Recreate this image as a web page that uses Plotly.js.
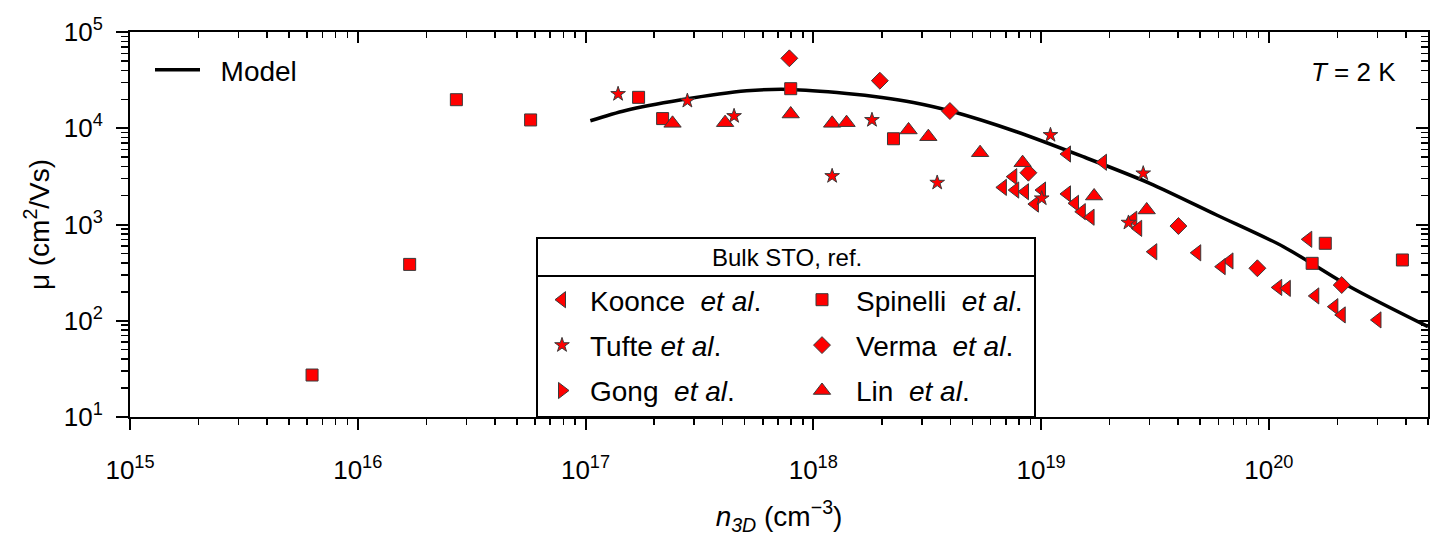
<!DOCTYPE html>
<html>
<head>
<meta charset="utf-8">
<script src="https://cdn.plot.ly/plotly-3.0.1.min.js"></script>
<style>
  html, body { margin: 0; padding: 0; background: #fff; }
  #chart { width: 1437px; height: 544px; }
</style>
</head>
<body>
<div id="chart"></div>
<script>
// Carrier mobility of bulk SrTiO3 at T = 2 K versus 3D carrier density.

// Model curve
const modelN  = [1.05e17, 1.5e17, 2.6e17, 5.1e17, 7.9e17, 1.4e18, 2.0e18, 2.75e18, 4.0e18, 7.8e18, 1.53e19, 3.0e19, 5.9e19, 1.16e20, 2.27e20, 5.0e20];
const modelMu = [11960, 15300, 19650, 24500, 25300, 23000, 20900, 18500, 15100, 9200, 5060, 2680, 1256, 588, 226, 87];

// Koonce et al.
const koonceN  = [1.30e19, 1.87e19, 7.55e18, 6.8e18, 7.7e18, 8.5e18, 1.01e19, 9.4e18, 1.30e19, 1.41e19, 1.51e19, 1.65e19, 2.54e19, 2.67e19, 3.11e19, 4.85e19, 6.72e19, 6.21e19, 1.10e20, 1.20e20, 1.49e20, 1.60e20, 1.94e20, 2.09e20, 3.0e20];
const koonceMu = [5400, 4430, 3140, 2430, 2280, 2190, 2280, 1630, 2080, 1660, 1360, 1190, 1133, 912, 521, 508, 418, 365, 222, 217, 702, 181, 140, 115, 102];

// Tufte et al.
const tufteN  = [1.39e17, 2.8e17, 4.49e17, 1.21e18, 1.81e18, 3.5e18, 1.10e19, 2.81e19, 1.007e19, 2.42e19];
const tufteMu = [22700, 19300, 13400, 3190, 12190, 2720, 8510, 3400, 1870, 1045];

// Gong et al. (no points inside the plotted range)
const gongN  = [];
const gongMu = [];

// Spinelli et al.
const spinelliN  = [6.3e15, 1.69e16, 2.71e16, 5.74e16, 1.71e17, 2.18e17, 7.96e17, 2.25e18, 1.77e20, 1.55e20, 3.86e20];
const spinelliMu = [27.3, 385, 19800, 12200, 20950, 12600, 25760, 7780, 638, 395, 428];

// Verma et al.
const vermaN  = [7.85e17, 1.96e18, 3.98e18, 8.8e18, 4.01e19, 8.91e19, 2.09e20];
const vermaMu = [53300, 31200, 15100, 3450, 964, 351, 235];

// Lin et al.
const linN  = [2.41e17, 4.1e17, 7.96e17, 1.21e18, 1.40e18, 2.62e18, 3.2e18, 5.4e18, 8.3e18, 1.71e19, 2.91e19];
const linMu = [11250, 11430, 14060, 11250, 11430, 9600, 8170, 5570, 4390, 1977, 1416];

// Axis ticks
const xTickVals = [1e15, 1e16, 1e17, 1e18, 1e19, 1e20];
const xTickText = ['10<sup>15</sup>', '10<sup>16</sup>', '10<sup>17</sup>', '10<sup>18</sup>', '10<sup>19</sup>', '10<sup>20</sup>'];
const yTickVals = [1e1, 1e2, 1e3, 1e4, 1e5];
const yTickText = ['10<sup>1</sup>', '10<sup>2</sup>', '10<sup>3</sup>', '10<sup>4</sup>', '10<sup>5</sup>'];

const xRange = [15, Math.log10(5e20)];
const yRange = [1, 5];

// minor ticks at 2..9 within each decade
function decadeMinors(loExp, hiExp) {
  const out = [];
  for (let e = loExp; e <= hiExp; e++) {
    for (let m = 2; m <= 9; m++) out.push(m * Math.pow(10, e));
  }
  return out;
}
const xMinor = decadeMinors(15, 20);
const yMinor = decadeMinors(1, 4);

const FONT = 'Liberation Sans, Arial, Helvetica, sans-serif';
const RED = '#ff0000';
const EDGE = '#3a3a3a';

// an empty series still gets a legend entry through a single blank point
const orBlank = arr => (arr.length ? arr : [null]);

function series(name, xs, ys, symbol, size, legendId, group) {
  return {
    type: 'scatter', mode: 'markers', name: name, x: orBlank(xs), y: orBlank(ys),
    legend: legendId, legendgroup: group,
    marker: { symbol: symbol, size: size, color: RED, line: { color: EDGE, width: 1 } },
    hoverinfo: 'x+y+name'
  };
}

const etal = '\u00a0<i>et al</i>.';
const traces = [
  {
    type: 'scatter', mode: 'lines', name: '\u00a0\u00a0Model', x: modelN, y: modelMu,
    legend: 'legend3',
    line: { color: '#000', width: 3.5, shape: 'spline', smoothing: 0.8 }
  },
  series('Koonce\u00a0' + etal, koonceN, koonceMu, 'triangle-left', 14, 'legend', 'g1'),
  series('Tufte' + etal, tufteN, tufteMu, 'star', 11, 'legend', 'g2'),
  series('Gong\u00a0' + etal, gongN, gongMu, 'triangle-right', 14, 'legend', 'g3'),
  series('Spinelli\u00a0' + etal, spinelliN, spinelliMu, 'square', 12, 'legend2', 'g4'),
  series('Verma\u00a0' + etal, vermaN, vermaMu, 'diamond', 13, 'legend2', 'g5'),
  series('Lin\u00a0' + etal, linN, linMu, 'triangle-up', 15, 'legend2', 'g6'),
  // carrier for the mirrored (top / right) tick axes
  { type: 'scatter', mode: 'markers', x: [null], y: [null], xaxis: 'x2', yaxis: 'y2', showlegend: false, hoverinfo: 'skip' }
];

const W = 1437, H = 544;
const M = { l: 130, r: 9, t: 32, b: 127 };
const PW = W - M.l - M.r, PH = H - M.t - M.b;
const px = v => (v - M.l) / PW;          // pixel column -> paper x
const py = v => (H - M.b - v) / PH;      // pixel row -> paper y

const baseAxis = {
  type: 'log', showgrid: false, zeroline: false,
  showline: true, linecolor: '#000', linewidth: 2, mirror: true,
  ticks: 'outside', tickcolor: '#000', tickwidth: 2,
  tickmode: 'array',
  tickfont: { family: FONT, size: 26, color: '#000' }
};

const layout = {
  width: W, height: H, margin: M,
  paper_bgcolor: '#fff', plot_bgcolor: '#fff',
  font: { family: FONT, color: '#000' },
  showlegend: true,
  xaxis: Object.assign({}, baseAxis, {
    range: xRange, tickvals: xTickVals, ticktext: xTickText, ticklen: 11,
    ticklabelstandoff: 18,
    minor: { tickmode: 'array', tickvals: xMinor, ticks: 'outside', ticklen: 6, tickwidth: 1.5, tickcolor: '#000' },
    title: { text: '<i>n</i><sub><i>3D</i></sub> (cm<sup>\u22123</sup>)', font: { family: FONT, size: 28 }, standoff: 22 }
  }),
  yaxis: Object.assign({}, baseAxis, {
    range: yRange, tickvals: yTickVals, ticktext: yTickText, ticklen: 12,
    ticklabelstandoff: 8,
    minor: { tickmode: 'array', tickvals: yMinor, ticks: 'outside', ticklen: 7, tickwidth: 1.5, tickcolor: '#000' },
    title: { text: '\u03bc (cm<sup>2</sup>/Vs)', font: { family: FONT, size: 28 }, standoff: 6 }
  }),
  xaxis2: {
    type: 'log', range: xRange, overlaying: 'x', side: 'top', anchor: 'y2',
    showgrid: false, zeroline: false, showline: false, showticklabels: false,
    tickmode: 'array', tickvals: xTickVals, ticks: 'inside', ticklen: 11, tickwidth: 2, tickcolor: '#000',
    minor: { tickmode: 'array', tickvals: xMinor, ticks: 'inside', ticklen: 6, tickwidth: 1.5, tickcolor: '#000' }
  },
  yaxis2: {
    type: 'log', range: yRange, overlaying: 'y', side: 'right', anchor: 'x2',
    showgrid: false, zeroline: false, showline: false, showticklabels: false,
    tickmode: 'array', tickvals: yTickVals, ticks: 'inside', ticklen: 12, tickwidth: 2, tickcolor: '#000',
    minor: { tickmode: 'array', tickvals: yMinor, ticks: 'inside', ticklen: 7, tickwidth: 1.5, tickcolor: '#000' }
  },
  legend: {
    x: px(534), y: py(275), xanchor: 'left', yanchor: 'top',
    bgcolor: 'rgba(0,0,0,0)', borderwidth: 0,
    font: { family: FONT, size: 28, color: '#000' },
    tracegroupgap: 6, itemwidth: 46
  },
  legend2: {
    x: px(788), y: py(275), xanchor: 'left', yanchor: 'top',
    bgcolor: 'rgba(0,0,0,0)', borderwidth: 0,
    font: { family: FONT, size: 28, color: '#000' },
    tracegroupgap: 6, itemwidth: 58
  },
  legend3: {
    x: px(150), y: py(45), xanchor: 'left', yanchor: 'top',
    bgcolor: 'rgba(0,0,0,0)', borderwidth: 0,
    font: { family: FONT, size: 28, color: '#000' },
    itemwidth: 45
  },
  shapes: [
    { type: 'rect', xref: 'paper', yref: 'paper', x0: px(537), x1: px(1035), y0: 0, y1: py(238),
      line: { color: '#000', width: 2 }, fillcolor: '#fff', layer: 'above' },
    { type: 'line', xref: 'paper', yref: 'paper', x0: px(537), x1: px(1035), y0: py(276), y1: py(276),
      line: { color: '#000', width: 2 }, layer: 'above' }
  ],
  annotations: [
    { xref: 'paper', yref: 'paper', x: px(787), y: py(257), text: 'Bulk STO, ref.', showarrow: false,
      xanchor: 'center', yanchor: 'middle', font: { family: FONT, size: 24, color: '#000' } },
    { xref: 'paper', yref: 'paper', x: px(1398), y: py(72), text: '<i>T</i> = 2 K', showarrow: false,
      xanchor: 'right', yanchor: 'middle', font: { family: FONT, size: 26, color: '#000' } }
  ]
};

Plotly.newPlot('chart', traces, layout, { displayModeBar: false, staticPlot: true });
</script>
</body>
</html>
